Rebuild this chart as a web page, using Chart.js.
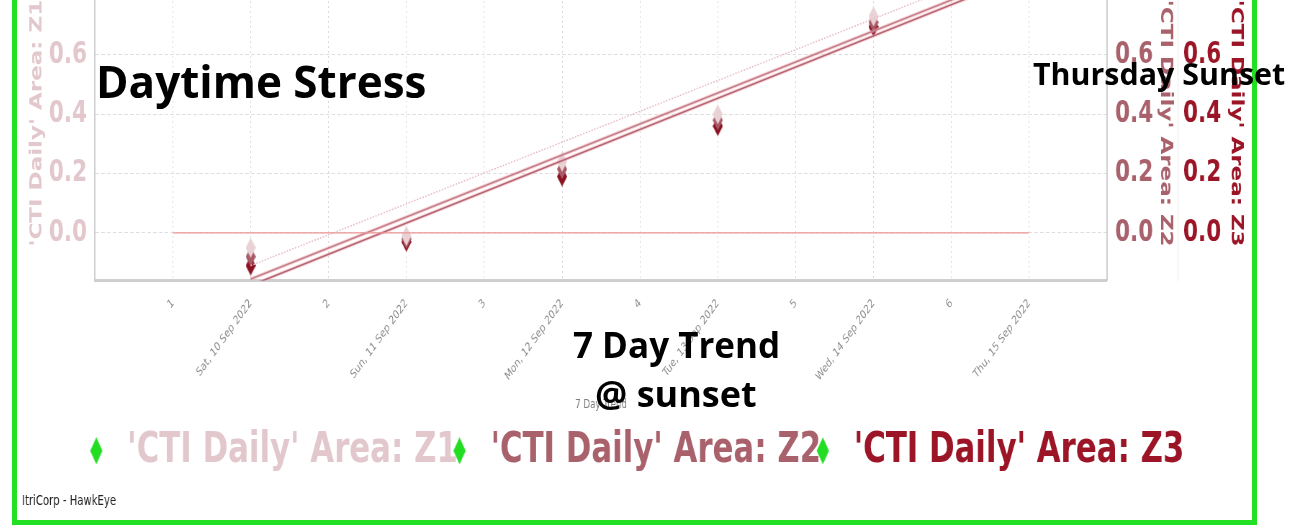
<!DOCTYPE html>
<html>
<head>
<meta charset="utf-8">
<title>Daytime Stress - 7 Day Trend</title>
<script src="https://cdn.jsdelivr.net/npm/chart.js@4.4.1/dist/chart.umd.min.js"></script>
<style>
  html, body { margin: 0; padding: 0; background: #fff; overflow: hidden; width: 1291px; height: 529px; }
  .frame { position: absolute; left: 12px; top: -30px; width: 1235px; height: 545px; border: 5px solid #22e122; overflow: hidden; background: #fff; }
  /* chart is rendered wide and squeezed horizontally, like the exported widget */
  #chart { position: absolute; left: 0; top: -38px; transform: scaleX(0.72); transform-origin: 0 0; }
  .note { position: absolute; font-family: 'Open Sans', sans-serif; font-weight: 700; color: #000; line-height: 1; white-space: nowrap; }
</style>
</head>
<body>
<div class="frame"><canvas id="chart" width="1715" height="583"></canvas></div>
<div class="note" style="left:96px; top:59px; font-size:44px;">Daytime Stress</div>
<div class="note" style="left:1033px; top:59px; font-size:30.4px;">Thursday Sunset</div>
<div class="note" style="left:573px; top:327px; font-size:35px;">7 Day Trend</div>
<div class="note" style="left:595px; top:376px; font-size:36px;">@ sunset</div>
<script>
// x axis: numbered half-day ticks alternating with the dates
const xTickLabels = ['1', 'Sat, 10 Sep 2022', '2', 'Sun, 11 Sep 2022', '3', 'Mon, 12 Sep 2022',
  '4', 'Tue, 13 Sep 2022', '5', 'Wed, 14 Sep 2022', '6', 'Thu, 15 Sep 2022'];
const sampleDays = ['Sat, 10 Sep 2022', 'Sun, 11 Sep 2022', 'Mon, 12 Sep 2022', 'Tue, 13 Sep 2022', 'Wed, 14 Sep 2022'];
const trendDays = ['Sat, 10 Sep 2022', 'Thu, 15 Sep 2022'];
const zeroDays = ['1', 'Thu, 15 Sep 2022'];

const seriesNames = ["'CTI Daily' Area: Z1", "'CTI Daily' Area: Z2", "'CTI Daily' Area: Z3"];
const z1Values = [-0.05, -0.01, 0.24, 0.40, 0.73];
const z2Values = [-0.08, -0.02, 0.215, 0.38, 0.71];
const z3Values = [-0.11, -0.03, 0.19, 0.36, 0.695];

// linear trend, value at first and last trend day
const z1Trend = [-0.11, 0.93];
const z2Trend = [-0.155, 0.89];
const z3Trend = [-0.177, 0.875];
const zeroLine = [0, 0];

const yTicks = [0, 0.2, 0.4, 0.6];
const yMin = -0.16;
const yMax = 0.9;

const textColors = ['#e2c8cc', '#a9626c', '#9c1526'];
const markerColors = ['#e8d2d5', '#a95a66', '#8c1222'];
const legendGreen = '#22dd22';

// filled diamond drawn into a small canvas, cx = diamond centre inside it
function diamond(color, w, h, canvasW, cx) {
  const c = document.createElement('canvas');
  c.width = canvasW || w; c.height = h;
  const x0 = (cx === undefined ? c.width / 2 : cx);
  const g = c.getContext('2d');
  g.fillStyle = color;
  g.beginPath();
  g.moveTo(x0, 0); g.lineTo(x0 + w / 2, h / 2); g.lineTo(x0, h); g.lineTo(x0 - w / 2, h / 2);
  g.closePath();
  g.fill();
  return c;
}

const xOf = label => xTickLabels.indexOf(label);
const points = (days, values) => days.map((d, i) => ({ x: xOf(d), y: values[i] }));

const legendDiamond = diamond(legendGreen, 17, 27, 44, 10.4);

function zoneSet(i, values, axis) {
  return {
    label: seriesNames[i], inLegend: true, textColor: textColors[i],
    data: points(sampleDays, values), yAxisID: axis,
    pointStyle: diamond(markerColors[i], 14, 20), pointRadius: 9, showLine: false
  };
}

function lineSet(days, values, axis, color, width, dash) {
  return {
    label: '', data: points(days, values), yAxisID: axis,
    showLine: true, pointRadius: 0, borderColor: color, borderWidth: width,
    borderDash: dash || [], clip: 0, fill: false
  };
}

const datasets = [
  lineSet(zeroDays, zeroLine, 'y', '#ee9494', 1.3),
  lineSet(trendDays, z1Trend, 'y', '#e6bcc3', 1.5, [2, 2]),
  lineSet(trendDays, z2Trend, 'y2', 'rgba(238,165,175,0.5)', 3.6),
  lineSet(trendDays, z3Trend, 'y3', 'rgba(238,165,175,0.5)', 3.6),
  lineSet(trendDays, z2Trend, 'y2', '#98555f', 1.6),
  lineSet(trendDays, z3Trend, 'y3', '#7a2432', 1.6),
  zoneSet(0, z1Values, 'y'),
  zoneSet(1, z2Values, 'y2'),
  zoneSet(2, z3Values, 'y3')
];

function yAxis(position, i, width, border, titlePad, tickPad) {
  return {
    position, min: yMin, max: yMax,
    afterBuildTicks: s => { s.ticks = yTicks.map(v => ({ value: v })); },
    afterFit: s => { s.width = width; },
    ticks: {
      callback: v => v.toFixed(1), color: textColors[i], padding: tickPad,
      font: { family: 'DejaVu Sans', weight: 'bold', size: 30 }
    },
    grid: i === 0
      ? { color: '#dedede', drawTicks: false, lineWidth: 1 }
      : { drawOnChartArea: false, drawTicks: false },
    border: border,
    title: {
      display: true, text: seriesNames[i], color: textColors[i],
      font: { family: 'DejaVu Sans', weight: 'bold', size: 23 },
      padding: { top: titlePad, bottom: 0 }
    }
  };
}

new Chart(document.getElementById('chart'), {
  type: 'scatter',
  data: { datasets },
  options: {
    responsive: false,
    animation: false,
    // right padding < 0 lets the outer axis run to the frame edge and centres the legend a bit further right
    layout: { padding: { top: 23.5, left: 7, right: -11, bottom: 3 } },
    scales: {
      x: {
        type: 'linear', min: -1, max: 12,
        afterBuildTicks: s => { s.ticks = xTickLabels.map((_, i) => ({ value: i })); },
        afterFit: s => { s.height = 145; },
        ticks: {
          callback: v => xTickLabels[v] ?? '', autoSkip: false,
          minRotation: 45, maxRotation: 45, padding: 16, color: '#8c8c8c',
          font: { family: 'DejaVu Sans', size: 12 }
        },
        grid: { color: '#d6d6d6', drawTicks: false, lineWidth: 1 },
        border: { color: '#cfcfcf', width: 3, dash: [2, 3] },
        title: {
          display: true, text: '7 Day Trend', color: '#7a7a7a',
          font: { family: 'DejaVu Sans', size: 12 }, padding: { top: 0, bottom: 13 }
        }
      },
      y: yAxis('left', 0, 101.3, { color: '#cfcfcf', width: 2, dash: [5, 3] }, 7, 11),
      y2: yAxis('right', 1, 98.6, { color: '#cfcfcf', width: 2 }, 4, 11),
      y3: yAxis('right', 2, 113.5, { color: '#e2e2e2', width: 1 }, 19, 7)
    },
    plugins: {
      tooltip: { enabled: false },
      legend: {
        position: 'bottom',
        onClick: null,
        labels: {
          usePointStyle: true, pointStyleWidth: 20, padding: 4,
          font: { family: 'DejaVu Sans', weight: 'bold', size: 42.8 },
          generateLabels: chart => chart.data.datasets
            .map((ds, i) => ({ ds, i }))
            .filter(({ ds }) => ds.inLegend)
            .map(({ ds, i }) => ({
              text: ds.label, fontColor: ds.textColor,
              pointStyle: legendDiamond, fillStyle: legendGreen, strokeStyle: legendGreen,
              lineWidth: 0, hidden: false, datasetIndex: i
            }))
        }
      },
      title: {
        display: true, text: 'ItriCorp - HawkEye', position: 'bottom', align: 'start',
        color: '#222', font: { family: 'DejaVu Sans', size: 14, weight: 'normal' },
        padding: { top: 11, bottom: 7 }
      }
    }
  }
});
</script>
</body>
</html>
